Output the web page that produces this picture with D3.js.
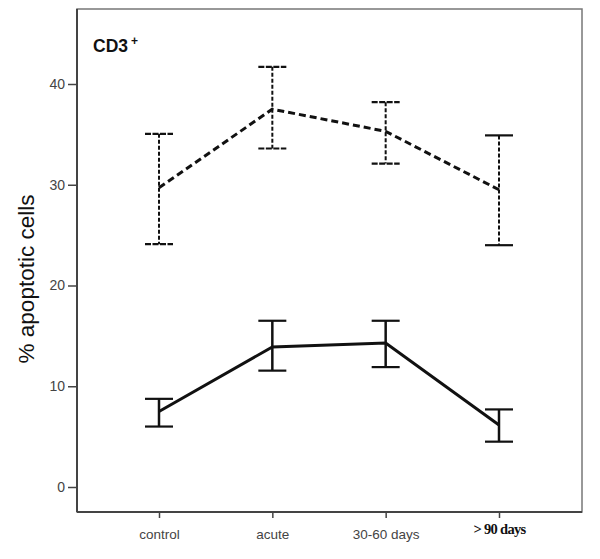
<!DOCTYPE html>
<html><head><meta charset="utf-8">
<script src="https://cdn.jsdelivr.net/npm/d3@7"></script>
<style>body{margin:0;background:#fff}</style>
</head><body>
<svg id="c" width="600" height="559"></svg>
<script>
const categories = ["control", "acute", "30-60 days", "> 90 days"];
const yTicks = [0, 10, 20, 30, 40];
// dashed series
const dashedMean = [29.7, 37.5, 35.3, 29.5];
const dashedUpper = [35.05, 41.7, 38.2, 34.9];
const dashedLower = [24.1, 33.6, 32.1, 24.0];
// solid series
const solidMean = [7.5, 13.9, 14.3, 6.15];
const solidUpper = [8.75, 16.5, 16.5, 7.7];
const solidLower = [6.0, 11.55, 11.9, 4.5];

const svg = d3.select("#c");
const L = 77, R = 582, T = 9, B = 512;
const y = d3.scaleLinear().domain([0, 40]).range([487, 84]);
const x = d3.scalePoint().domain(categories).range([159, 499]);

// frame
svg.append("rect").attr("x", L).attr("y", T).attr("width", R - L).attr("height", B - T)
  .attr("fill", "none").attr("stroke", "#777").attr("stroke-width", 1.5);
svg.append("line").attr("x1", L).attr("x2", L).attr("y1", T).attr("y2", B).attr("stroke", "#444").attr("stroke-width", 2);
svg.append("line").attr("x1", L).attr("x2", R).attr("y1", B).attr("y2", B).attr("stroke", "#444").attr("stroke-width", 2);

// y axis
const ya = svg.append("g").attr("transform", `translate(${L},0)`)
  .call(d3.axisLeft(y).tickValues(yTicks).tickSize(9).tickPadding(3).tickFormat(d3.format("d")));
ya.select(".domain").remove();
ya.selectAll("line").attr("stroke", "#444").attr("stroke-width", 1.5);
ya.selectAll("text").attr("font-family", "Arial, 'Liberation Sans', sans-serif").attr("font-size", 14).attr("fill", "#444");

// x axis
const xa = svg.append("g").attr("transform", `translate(0,${B})`)
  .call(d3.axisBottom(x).tickSize(6).tickPadding(11));
xa.select(".domain").remove();
xa.selectAll("line").attr("stroke", "#444").attr("stroke-width", 1.5);
xa.selectAll("text").attr("font-family", "Arial, 'Liberation Sans', sans-serif").attr("font-size", 13.5).attr("fill", "#444");
xa.selectAll("text").filter(d => d === "> 90 days")
  .attr("font-family", "'Liberation Serif', 'Times New Roman', serif").attr("font-weight", "bold")
  .attr("font-size", 14.5).attr("fill", "#111").attr("dy", "0.35em").attr("letter-spacing", -0.7);

// y label
svg.append("text").attr("transform", "translate(34,279) rotate(-90)").attr("text-anchor", "middle")
  .attr("font-family", "Arial, 'Liberation Sans', sans-serif").attr("font-size", 22.5).attr("fill", "#111")
  .text("% apoptotic cells");

// title
const t = svg.append("text").attr("x", 93).attr("y", 52)
  .attr("font-family", "Arial, 'Liberation Sans', sans-serif").attr("font-size", 17.5).attr("font-weight", "bold").attr("fill", "#111");
t.append("tspan").text("CD3");
t.append("tspan").attr("dx", 3).attr("dy", -7).attr("font-size", 12).text("+");

function series(mean, lo, hi, dashed) {
  const g = svg.append("g");
  const idx = d3.range(categories.length);
  // error bars
  g.selectAll(".v").data(idx).join("line")
    .attr("x1", i => x(categories[i])).attr("x2", i => x(categories[i]))
    .attr("y1", i => y(hi[i])).attr("y2", i => y(lo[i]))
    .attr("stroke", "#111").attr("stroke-width", dashed ? 2 : 2.5)
    .attr("stroke-dasharray", dashed ? "4,2" : null);
  for (const arr of [lo, hi]) {
    g.selectAll(null).data(idx).join("line")
      .attr("x1", i => x(categories[i]) - 14).attr("x2", i => x(categories[i]) + 14)
      .attr("y1", i => y(arr[i])).attr("y2", i => y(arr[i]))
      .attr("stroke", "#111").attr("stroke-width", 2.2)
      .attr("stroke-dasharray", i => dashed && i < 3 ? "6,1.5" : null);
  }
  const line = d3.line().x((d, i) => x(categories[i])).y(d => y(d));
  g.append("path").datum(mean).attr("d", line).attr("fill", "none")
    .attr("stroke", "#111").attr("stroke-width", 3)
    .attr("stroke-dasharray", dashed ? "7,4" : null);
}
series(dashedMean, dashedLower, dashedUpper, true);
series(solidMean, solidLower, solidUpper, false);
</script>
</body></html>
